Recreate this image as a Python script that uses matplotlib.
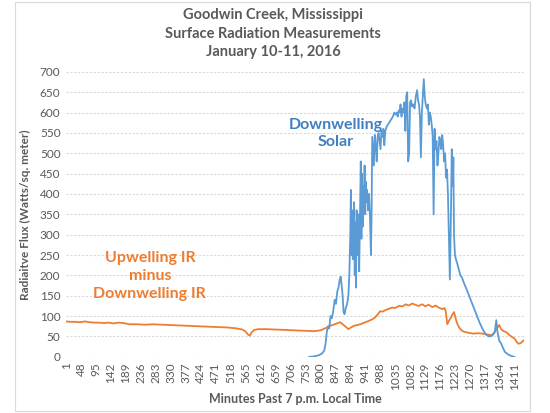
"""Goodwin Creek surface radiation chart, January 10-11, 2016."""

import matplotlib
matplotlib.use("Agg")
import matplotlib.pyplot as plt
from matplotlib.patches import Rectangle

# minutes past 7 p.m. and flux values
solar_minutes = [
    765, 780, 795, 805, 812, 816, 820, 824, 828, 832, 836, 840, 845, 849, 853,
    857, 861, 864, 867, 870, 873, 876, 880, 884, 888, 891, 894, 896, 898, 900,
    902, 904, 906, 908, 910, 912, 914, 916, 918, 920, 922, 925, 927, 929, 931,
    933, 935, 937, 939, 941, 943, 945, 947, 950, 953, 956, 959, 961, 963, 966,
    968, 971, 974, 977, 980, 983, 986, 989, 992, 995, 998, 1001, 1004, 1008,
    1012, 1016, 1020, 1024, 1028, 1032, 1036, 1040, 1043, 1046, 1049, 1052,
    1055, 1058, 1061, 1064, 1067, 1070, 1073, 1076, 1079, 1082, 1085, 1088,
    1092, 1096, 1100, 1104, 1107, 1110, 1113, 1116, 1119, 1122, 1125, 1128,
    1131, 1135, 1138, 1141, 1144, 1147, 1150, 1153, 1156, 1159, 1162, 1165,
    1168, 1171, 1174, 1177, 1180, 1183, 1186, 1189, 1192, 1195, 1198, 1201,
    1204, 1207, 1210, 1213, 1216, 1218, 1220, 1223, 1226, 1230, 1235, 1240,
    1245, 1252, 1260, 1270, 1280, 1290, 1300, 1310, 1320, 1330, 1340, 1348,
    1353, 1357, 1362, 1368, 1374, 1380, 1390, 1400, 1410,
]
solar_values = [
    0, 1, 4, 8, 15, 30, 60, 75, 70, 100, 95, 110, 140, 130, 160,
    170, 190, 197, 175, 150, 110, 105, 120, 130, 150, 200, 300, 410, 250, 360,
    240, 330, 380, 200, 330, 170, 360, 300, 250, 350, 210, 380, 480, 290, 450,
    320, 420, 380, 470, 350, 430, 380, 410, 360, 400, 340, 250, 350, 540, 500,
    470, 545, 520, 480, 540, 550, 530, 510, 555, 540, 560, 520, 555, 565,
    570, 575, 580, 585, 590, 600, 595, 600, 590, 605, 600, 620,
    590, 610, 600, 625, 555, 640, 650, 480, 500, 625, 630, 615,
    620, 610, 640, 655, 630, 620, 590, 490, 600, 640, 682, 640,
    620, 610, 620, 570, 600, 590, 570, 540, 350, 560, 510, 530,
    470, 500, 540, 530, 510, 545, 520, 480, 500, 440, 460, 400,
    300, 190, 330, 510, 420, 490, 300, 250, 240, 230, 215, 200,
    195, 180, 165, 145, 125, 105, 85, 68, 55, 50, 52, 60,
    90, 60, 40, 33, 22, 12, 6, 2, 0,
]

ir_minutes = [
    1, 15, 30, 45, 60, 75, 90, 105, 120, 135, 150, 165, 180, 200, 225, 250,
    275, 300, 330, 360, 390, 420, 450, 480, 510, 535, 555, 565, 572, 578,
    584, 592, 605, 630, 660, 690, 720, 750, 780, 800, 815, 830, 845, 862,
    870, 878, 888, 896, 905, 915, 925, 935, 945, 957, 965, 972, 980, 988,
    996, 1005, 1015, 1025, 1035, 1047, 1058, 1068, 1078, 1089, 1098, 1108,
    1120, 1130, 1140, 1152, 1162, 1172, 1184, 1190, 1194, 1199, 1205, 1210,
    1215, 1220, 1226, 1231, 1238, 1247, 1260, 1279, 1295, 1310, 1325, 1337,
    1345, 1355, 1362, 1368, 1374, 1385, 1392, 1400, 1410, 1416, 1422, 1430,
    1438,
]
ir_values = [
    87, 86, 86, 85, 87, 85, 84, 84, 83, 84, 82, 84, 83, 80, 80, 79,
    80, 79, 78, 77, 76, 75, 74, 73, 72, 70, 67, 62, 55, 52,
    60, 66, 68, 68, 67, 66, 65, 64, 63, 65, 70, 76, 80, 85,
    80, 75, 68, 72, 76, 78, 80, 83, 86, 90, 93, 97, 104, 112,
    111, 115, 118, 121, 120, 125, 124, 129, 126, 131, 128, 125,
    129, 124, 128, 122, 126, 121, 117, 120, 112, 80, 90, 96,
    104, 110, 92, 80, 70, 63, 60, 57, 58, 57, 55, 53,
    58, 70, 78, 68, 64, 60, 55, 50, 45, 38, 32, 34,
    40,
]

y_ticks = list(range(0, 701, 50))
x_ticks = list(range(1, 1441, 47))

plt.rcParams["font.family"] = ["Lato", "DejaVu Sans"]
gray = "#595959"
blue = "#5B9BD5"
orange = "#ED7D31"

fig = plt.figure(figsize=(5.5, 4.13), dpi=100)
ax = fig.add_axes([0.12, 0.136, 0.833, 0.690])

ax.plot(ir_minutes, ir_values, color=orange, linewidth=1.3)
ax.plot(solar_minutes, solar_values, color=blue, linewidth=1.3)

ax.set_xlim(0.5, 1440.5)
ax.set_ylim(0, 700)
ax.set_yticks(y_ticks)
ax.set_xticks(x_ticks)
ax.set_xticklabels([str(t) for t in x_ticks], rotation=90)
ax.tick_params(length=0, labelsize=8.5, labelcolor=gray, pad=4)
ax.grid(axis="y", color="#d9d9d9", linestyle=(0, (2, 1.5)), linewidth=0.8)
ax.set_axisbelow(True)
for side in ax.spines.values():
    side.set_visible(False)

ax.set_ylabel("Radiaitve Flux (Watts/sq. meter)", fontsize=8.5,
              fontweight="bold", color=gray, labelpad=6)
ax.set_xlabel("Minutes Past 7 p.m. Local Time", fontsize=9,
              fontweight="bold", color=gray, labelpad=2)

fig.text(0.497, 0.918, "Goodwin Creek, Mississippi\nSurface Radiation Measurements\nJanuary 10-11, 2016",
         ha="center", va="center", fontsize=10.5, fontweight="bold",
         color=gray, linespacing=1.4)

ax.text(847, 549, "Downwelling\nSolar", ha="center", va="center",
        fontsize=11.5, fontweight="bold", color="#3F7FC2", linespacing=1.3)
ax.text(264, 199, "Upwelling IR\nminus\nDownwelling IR", ha="center",
        va="center", fontsize=11.5, fontweight="bold", color=orange,
        linespacing=1.35)

fig.patches.append(Rectangle((0.027, 0.004), 0.937, 0.99, transform=fig.transFigure,
                             fill=False, edgecolor="#d9d9d9", linewidth=0.8))

fig.savefig("out.png", dpi=100)
